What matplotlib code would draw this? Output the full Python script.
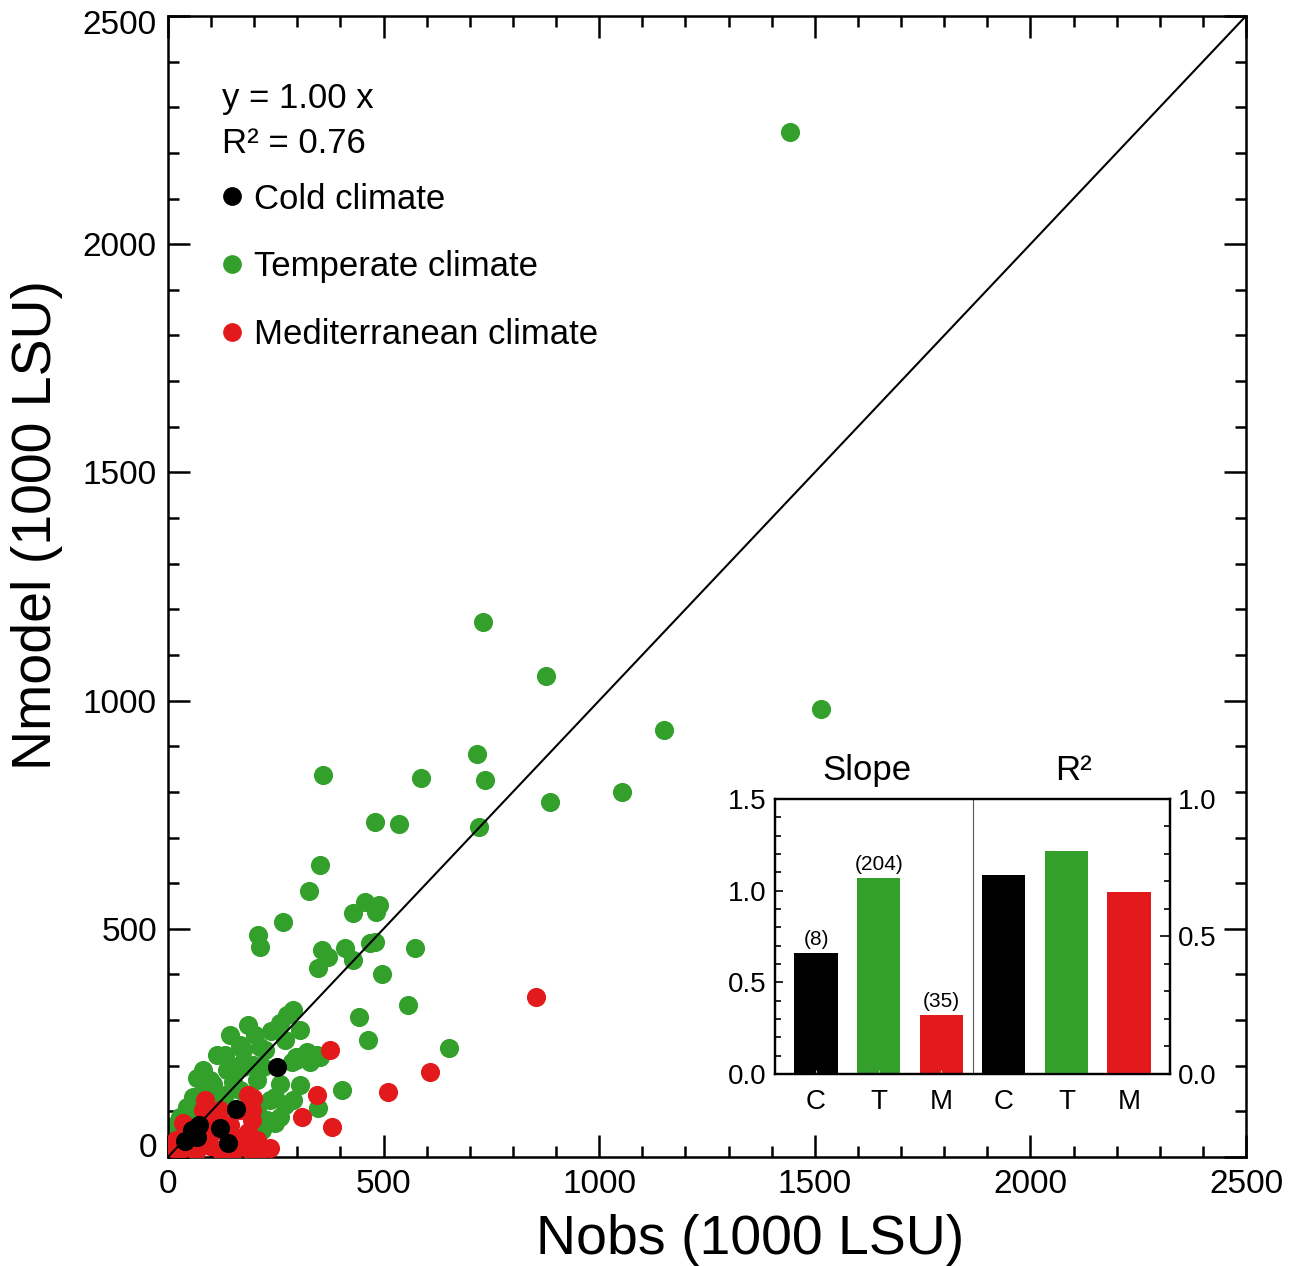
import matplotlib
matplotlib.use("Agg")
import matplotlib.pyplot as plt
from matplotlib.ticker import MultipleLocator
from matplotlib.lines import Line2D
from matplotlib.transforms import ScaledTranslation

plt.rcParams['font.family'] = ['Liberation Sans', 'DejaVu Sans']

GREEN = '#33a02c'
RED = '#e31a1c'

# temperate climate (Nobs, Nmodel), 1000 LSU
temp_x = [1442, 730, 877, 1514, 1150, 717, 735, 359, 587, 886, 1053, 480, 536, 722,
          352, 328, 267, 209, 213, 428, 457, 489, 482, 358, 410, 468, 480, 573, 371,
          349, 430, 496, 557, 443, 465, 652, 403, 349,
          291, 275, 260, 186, 306, 240, 144, 322, 345, 298, 329, 213, 175, 113, 82,
          67, 136, 175, 198, 221, 105, 151, 206, 260, 248, 291, 59, 43, 28, 260, 229,
          206, 5, 144, 298, 352, 287, 167,
          97, 74, 132, 167, 225, 271, 202, 167, 132, 97, 237, 271, 306, 16, 51, 218,
          248, 159]
temp_y = [2246, 1172, 1054, 982, 936, 884, 826, 837, 831, 778, 800, 735, 730, 723,
          640, 583, 514, 486, 460, 534, 558, 552, 537, 454, 457, 469, 472, 457, 439,
          413, 432, 402, 333, 307, 256, 238, 147, 107,
          322, 311, 294, 289, 278, 275, 267, 231, 223, 213, 209, 242, 234, 223, 191,
          172, 191, 198, 202, 198, 161, 165, 169, 161, 132, 125, 132, 110, 88, 88, 81,
          103, 44, 15, 220, 220, 209, 202,
          125, 136, 136, 147, 234, 256, 267, 245, 223, 169, 125, 114, 158, 70, 81, 59,
          74, 9]

# mediterranean climate
med_x = [853, 376, 608, 510, 345, 310, 380, 186, 198, 194, 186, 82, 35, 12, 105, 159,
         175, 206, 237, 213, 97, 58, 97, 28, 121, 144, 51, 19, 86, 167, 194, 121, 190,
         65, 150]
med_y = [351, 234, 187, 143, 136, 88, 66, 136, 129, 81, 55, 103, 74, 19, 55, 41,
         30, 37, 19, 15, 23, 37, 81, 15, 15, 70, 55, 37, 125, 103, 103, 103, 15,
         10, 12]

# cold climate
cold_x = [252, 158, 73, 121, 140, 67, 39, 56]
cold_y = [198, 105, 70, 63, 30, 44, 34, 59]

fit_x = [0, 2500]
fit_y = [0, 2500]
ticks = [0, 500, 1000, 1500, 2000, 2500]

# inset: regression slope and R2 per climate
groups = ['C', 'T', 'M']
slopes = [0.66, 1.07, 0.32]
r2 = [0.725, 0.81, 0.66]
counts = ['(8)', '(204)', '(35)']
bar_colors = ['black', GREEN, RED]

fig = plt.figure(figsize=(12.9, 12.66), dpi=100)
ax = fig.add_axes([0.1302, 0.0861, 0.8357, 0.9013])

ax.scatter(temp_x, temp_y, s=190, color=GREEN, linewidths=0, zorder=2)
ax.scatter(med_x, med_y, s=190, color=RED, linewidths=0, zorder=3)
ax.scatter(cold_x, cold_y, s=190, color='black', linewidths=0, zorder=4)
ax.plot(fit_x, fit_y, color='black', lw=1.5, zorder=5)

ax.set_xlim(0, 2500)
ax.set_ylim(0, 2500)
ax.set_xticks(ticks)
ax.set_yticks(ticks)
ax.xaxis.set_minor_locator(MultipleLocator(100))
ax.yaxis.set_minor_locator(MultipleLocator(100))
ax.tick_params(which='both', direction='in', top=True, right=True, width=1.8)
ax.tick_params(which='major', length=16)
ax.tick_params(which='minor', length=8)
ax.tick_params(axis='y', labelsize=24, pad=8)
ax.tick_params(axis='x', labelsize=24, pad=9)
for sp in ax.spines.values():
    sp.set_linewidth(1.8)

# end labels on the y axis are pulled inside the axis range
ylabs = ax.get_yticklabels()
ylabs[0].set_va('baseline')
ylabs[-1].set_transform(ylabs[-1].get_transform() +
                        ScaledTranslation(0, -6 / 100, fig.dpi_scale_trans))

ax.set_xlabel('Nobs (1000 LSU)', fontsize=40)
ax.xaxis.label.set_va('center')
ax.xaxis.set_label_coords(0.54, -0.0727)
ax.set_ylabel('Nmodel (1000 LSU)', fontsize=40)
ax.yaxis.label.set_va('center')
ax.yaxis.set_label_coords(-0.1215, 0.554)

ax.text(0.050, 0.928, 'y = 1.00 x', transform=ax.transAxes, fontsize=25, va='center')
ax.text(0.050, 0.888, 'R² = 0.76', transform=ax.transAxes, fontsize=25, va='center')

handles = [Line2D([], [], ls='none', marker='o', ms=13.5, mec='none', mfc=c)
           for c in ['black', GREEN, RED]]
leg = ax.legend(handles, ['Cold climate', 'Temperate climate', 'Mediterranean climate'],
                loc='upper left', bbox_to_anchor=(0.0515, 0.854), frameon=False,
                fontsize=25, borderpad=0, borderaxespad=0, handlelength=0.5,
                handletextpad=0.38, labelspacing=1.0)

# inset bar chart
ax_in = fig.add_axes([0.6008, 0.1517, 0.3062, 0.2172])
b1 = ax_in.bar([1, 2, 3], slopes, width=0.69, color=bar_colors)
ax_in.bar_label(b1, labels=counts, padding=3, fontsize=15)
ax_in.set_ylim(0, 1.5)
ax_in.set_xlim(0.345, 6.655)
ax_in.axvline(3.5, color='0.35', lw=0.8)

ax_r = ax_in.twinx()
ax_r.bar([4, 5, 6], r2, width=0.69, color=bar_colors)
ax_r.set_ylim(0, 1.0)

ax_in.set_xticks([1, 2, 3, 4, 5, 6])
ax_in.set_xticklabels(groups + groups, fontsize=20)
ax_in.tick_params(axis='x', direction='in', length=3, color='0.75', pad=11)
ax_in.yaxis.set_major_locator(MultipleLocator(0.5))
ax_in.yaxis.set_minor_locator(MultipleLocator(0.1))
ax_in.tick_params(axis='y', which='both', direction='in', labelsize=20, pad=6, width=1.2)
ax_in.tick_params(axis='y', which='major', length=6)
ax_in.tick_params(axis='y', which='minor', length=4)
ax_in.yaxis.set_major_formatter('{x:.1f}')
ax_r.yaxis.set_major_locator(MultipleLocator(0.5))
ax_r.yaxis.set_minor_locator(MultipleLocator(0.1))
ax_r.tick_params(axis='y', which='both', direction='in', labelsize=20, pad=6, width=1.2)
ax_r.tick_params(axis='y', which='major', length=7)
ax_r.tick_params(axis='y', which='minor', length=4)
ax_r.yaxis.set_major_formatter('{x:.1f}')
for a in (ax_in, ax_r):
    for sp in a.spines.values():
        sp.set_linewidth(1.6)

ax_in.text(1.81, 1.105, 'Slope', transform=ax_in.get_xaxis_transform(),
           fontsize=25, ha='center', va='center')
ax_in.text(5.12, 1.105, 'R²', transform=ax_in.get_xaxis_transform(),
           fontsize=25, ha='center', va='center')

fig.savefig('out.png', dpi=100)
